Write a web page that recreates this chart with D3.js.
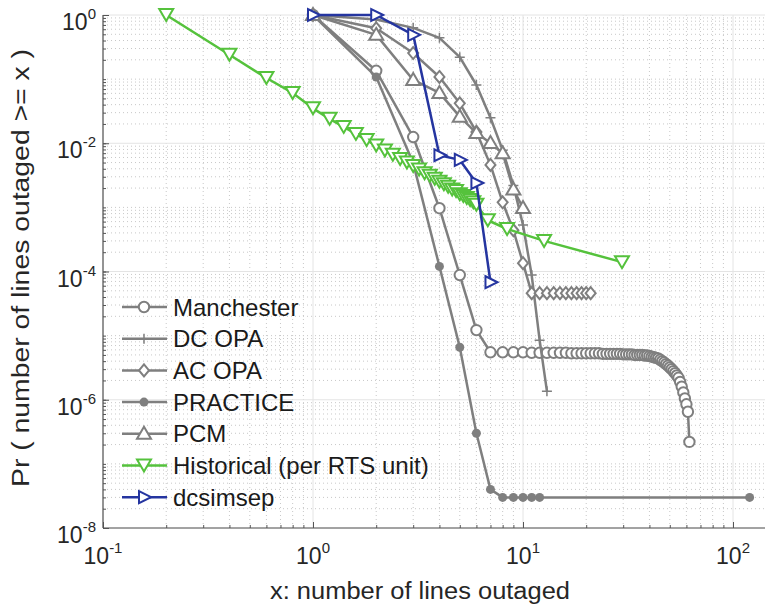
<!DOCTYPE html>
<html>
<head>
<meta charset="utf-8">
<script src="https://cdn.jsdelivr.net/npm/d3@7"></script>
<style>
  body { margin: 0; background: #fff; }
  text { font-family: "Liberation Sans", Arial, sans-serif; }
</style>
</head>
<body>
<div id="main"></div>
<script>
// series data
var manchesterX = [1, 2, 3, 4, 5, 6, 7, 8, 9, 10, 11, 12, 13, 14, 15, 16, 17, 18, 19, 20,
  21, 22, 23, 24, 25, 26, 27, 28, 29, 30, 31, 32, 33, 34, 35, 36, 37, 38, 39, 40,
  41, 42, 43, 44, 45, 46, 47, 48, 49, 50, 51, 52, 53, 54, 55, 56, 57, 58, 59, 60, 61, 62];
var manchesterY = [1, 0.135, 0.0125, 9.7e-4, 8.8e-5, 1.22e-5, 5.5e-6, 5.5e-6, 5.5e-6, 5.5e-6,
  5.4e-6, 5.4e-6, 5.4e-6, 5.4e-6, 5.4e-6, 5.4e-6, 5.3e-6, 5.3e-6, 5.3e-6, 5.3e-6,
  5.3e-6, 5.3e-6, 5.3e-6, 5.2e-6, 5.2e-6, 5.2e-6, 5.2e-6, 5.2e-6, 5.2e-6, 5.1e-6,
  5.1e-6, 5.1e-6, 5.1e-6, 5.0e-6, 5.0e-6, 5.0e-6, 5.0e-6, 4.9e-6, 4.9e-6, 4.8e-6,
  4.7e-6, 4.6e-6, 4.5e-6, 4.4e-6, 4.2e-6, 4.0e-6, 3.8e-6, 3.6e-6, 3.4e-6, 3.2e-6,
  3.0e-6, 2.8e-6, 2.6e-6, 2.4e-6, 2.2e-6, 1.9e-6, 1.6e-6, 1.3e-6, 1.05e-6, 8.5e-7, 6.5e-7, 2.2e-7];

var dcOpaX = [1, 2, 3, 4, 5, 6, 7, 8, 9, 10, 11, 12, 13];
var dcOpaY = [1, 0.85, 0.63, 0.44, 0.22, 0.081, 0.025, 0.0078, 0.0022, 5.3e-4, 8.8e-5, 8.5e-6, 1.36e-6];

var acOpaX = [1, 2, 3, 4, 5, 6, 7, 8, 9, 10, 11, 12, 13, 14, 15, 16, 17, 18, 19, 20, 21];
var acOpaY = [1, 0.62, 0.255, 0.108, 0.042, 0.015, 0.0046, 0.0012, 4.4e-4, 1.35e-4,
  4.6e-5, 4.6e-5, 4.6e-5, 4.6e-5, 4.6e-5, 4.6e-5, 4.6e-5, 4.6e-5, 4.6e-5, 4.6e-5, 4.6e-5];

var practiceX = [1, 2, 3, 4, 5, 6, 7, 8, 9, 10, 11, 12, 120];
var practiceY = [1, 0.108, 0.0049, 1.2e-4, 6.6e-6, 3.0e-7, 4.0e-8, 3.0e-8, 3.0e-8, 3.0e-8, 3.0e-8, 3.0e-8, 3.0e-8];

var pcmX = [1, 2, 3, 4, 5, 6, 7, 8, 9, 10];
var pcmY = [1, 0.49, 0.097, 0.061, 0.026, 0.0144, 0.0101, 0.0070, 0.0019, 9.8e-4];

var historicalX = [0.2, 0.4, 0.6, 0.8, 1.0, 1.2, 1.4, 1.6, 1.8, 2.0, 2.2, 2.4, 2.6, 2.8, 3.0,
  3.2, 3.4, 3.6, 3.8, 4.0, 4.2, 4.4, 4.6, 4.8, 5.0, 5.2, 5.4, 5.6, 5.8, 6.0, 6.8, 8.4, 12.6, 29.6];
var historicalY = [1.0, 0.24, 0.104, 0.061, 0.035, 0.024, 0.018, 0.014, 0.0112, 0.0092, 0.0077,
  0.0066, 0.0057, 0.0050, 0.0044, 0.0039, 0.0034, 0.0031, 0.0028, 0.0025, 0.0023, 0.0021,
  0.0019, 0.0018, 0.0016, 0.0015, 0.0014, 0.0013, 0.0012, 0.0011, 6.3e-4, 4.6e-4, 3.0e-4, 1.4e-4];

var dcsimsepX = [1, 2, 3, 4, 5, 6, 7];
var dcsimsepY = [1, 1, 0.49, 0.0065, 0.0055, 0.0024, 6.8e-5];

var seriesNames = ['Manchester', 'DC OPA', 'AC OPA', 'PRACTICE', 'PCM', 'Historical (per RTS unit)', 'dcsimsep'];

var xTickExps = [-1, 0, 1, 2];
var yTickExps = [0, -2, -4, -6, -8];

var xLabel = 'x: number of lines outaged';
var yLabel = 'Pr ( number of lines outaged >= x )';

function create_chart() {

  var width = 765, height = 613;
  var left = 103, right = 765, top = 15, bottom = 528;

  var gray = '#7f7f7f', green = '#55c23c', blue = '#2535a0';

  var svg = d3.select('#main').append('svg').attr('width', width).attr('height', height);

  var x = d3.scaleLog().domain([0.1, 100]).range([left, 733]);
  var y = d3.scaleLog().domain([1, 1e-8]).range([top, bottom]);

  // tick positions over the full visible area
  var xAll = d3.scaleLog().domain([0.1, x.invert(right)]);
  var yAll = d3.scaleLog().domain([1e-8, 1]);
  var xMinor = xAll.ticks().filter(function (v) { return v <= x.invert(right); });
  var yMinor = yAll.ticks();
  var xMajor = xTickExps.map(function (e) { return Math.pow(10, e); });
  var yMajor = yTickExps.map(function (e) { return Math.pow(10, e); });

  function isMajor(list, v) {
    return list.some(function (m) { return Math.abs(Math.log10(m) - Math.log10(v)) < 1e-6; });
  }

  var grid = svg.append('g');

  grid.selectAll('.xminor')
    .data(xMinor.filter(function (v) { return !isMajor(xMajor, v); }))
    .enter().append('line')
    .attr('x1', function (d) { return x(d); }).attr('x2', function (d) { return x(d); })
    .attr('y1', top).attr('y2', bottom)
    .attr('stroke', '#c8c8c8').attr('stroke-width', 1).attr('stroke-dasharray', '1,3');

  grid.selectAll('.yminor')
    .data(yMinor.filter(function (v) { return !isMajor(yMajor, v); }))
    .enter().append('line')
    .attr('y1', function (d) { return y(d); }).attr('y2', function (d) { return y(d); })
    .attr('x1', left).attr('x2', right)
    .attr('stroke', '#c8c8c8').attr('stroke-width', 1).attr('stroke-dasharray', '1,3');

  grid.selectAll('.xmajor')
    .data(xMajor)
    .enter().append('line')
    .attr('x1', function (d) { return x(d); }).attr('x2', function (d) { return x(d); })
    .attr('y1', top).attr('y2', bottom)
    .attr('stroke', '#e4e4e4').attr('stroke-width', 1);

  grid.selectAll('.ymajor')
    .data(yMajor)
    .enter().append('line')
    .attr('y1', function (d) { return y(d); }).attr('y2', function (d) { return y(d); })
    .attr('x1', left).attr('x2', right)
    .attr('stroke', '#e4e4e4').attr('stroke-width', 1);

  // axes, ticks pointing inward
  var xAxisMinor = svg.append('g').attr('transform', 'translate(0,' + bottom + ')')
    .call(d3.axisBottom(x).tickValues(xMinor).tickSize(-3).tickFormat(''));
  var xAxisMajor = svg.append('g').attr('transform', 'translate(0,' + bottom + ')')
    .call(d3.axisBottom(x).tickValues(xMajor).tickSize(-6).tickFormat(''));
  var yAxisMinor = svg.append('g').attr('transform', 'translate(' + left + ',0)')
    .call(d3.axisLeft(y).tickValues(yMinor).tickSize(-3).tickFormat(''));
  var yAxisMajor = svg.append('g').attr('transform', 'translate(' + left + ',0)')
    .call(d3.axisLeft(y).tickValues(yMajor).tickSize(-6).tickFormat(''));

  [xAxisMinor, xAxisMajor, yAxisMinor, yAxisMajor].forEach(function (a) {
    a.selectAll('line').attr('stroke', '#555');
    a.select('.domain').remove();
  });

  svg.append('line').attr('x1', left).attr('x2', right).attr('y1', bottom).attr('y2', bottom)
    .attr('stroke', '#555').attr('stroke-width', 1.2);
  svg.append('line').attr('x1', left).attr('x2', left).attr('y1', top).attr('y2', bottom)
    .attr('stroke', '#555').attr('stroke-width', 1.2);

  // tick labels 10^n
  function powerLabel(sel) {
    sel.append('tspan').attr('font-size', 23).text('10');
    sel.append('tspan').attr('font-size', 15).attr('dy', -11).text(function (d) { return d; });
  }

  svg.selectAll('.xlab')
    .data(xTickExps)
    .enter().append('text')
    .attr('x', function (d) { return x(Math.pow(10, d)); })
    .attr('y', 564)
    .attr('text-anchor', 'middle')
    .attr('fill', '#262626')
    .call(powerLabel);

  svg.selectAll('.ylab')
    .data(yTickExps)
    .enter().append('text')
    .attr('x', 96)
    .attr('y', function (d) { return y(Math.pow(10, d)) + 15; })
    .attr('text-anchor', 'end')
    .attr('fill', '#262626')
    .call(powerLabel);

  svg.append('text')
    .attr('x', 420).attr('y', 599)
    .attr('text-anchor', 'middle').attr('font-size', 23).attr('fill', '#262626')
    .attr('textLength', 300).attr('lengthAdjust', 'spacingAndGlyphs')
    .text(xLabel);

  svg.append('text')
    .attr('transform', 'translate(29,268) rotate(-90)')
    .attr('text-anchor', 'middle').attr('font-size', 23).attr('fill', '#262626')
    .attr('textLength', 438).attr('lengthAdjust', 'spacingAndGlyphs')
    .text(yLabel);

  // marker shapes
  function marker(g, kind, color) {
    if (kind === 'circle') {
      g.append('circle').attr('r', 5.2).attr('fill', '#fff').attr('stroke', color).attr('stroke-width', 2);
    } else if (kind === 'plus') {
      g.append('path').attr('d', 'M-5,0H5M0,-5V5').attr('stroke', color).attr('stroke-width', 1.5);
    } else if (kind === 'diamond') {
      g.append('path').attr('d', 'M0,-6L5,0L0,6L-5,0Z').attr('fill', '#fff').attr('stroke', color).attr('stroke-width', 2);
    } else if (kind === 'dot') {
      g.append('circle').attr('r', 4.5).attr('fill', color);
    } else if (kind === 'up') {
      g.append('path').attr('d', 'M0,-7L7,5L-7,5Z').attr('fill', '#fff').attr('stroke', color).attr('stroke-width', 2);
    } else if (kind === 'down') {
      g.append('path').attr('d', 'M0,6L7,-6L-7,-6Z').attr('fill', '#fff').attr('stroke', color).attr('stroke-width', 2);
    } else if (kind === 'right') {
      g.append('path').attr('d', 'M7,0L-5,-6L-5,6Z').attr('fill', '#fff').attr('stroke', color).attr('stroke-width', 2);
    }
  }

  var series = [
    {xs: manchesterX, ys: manchesterY, color: gray, kind: 'circle'},
    {xs: dcOpaX, ys: dcOpaY, color: gray, kind: 'plus'},
    {xs: acOpaX, ys: acOpaY, color: gray, kind: 'diamond'},
    {xs: practiceX, ys: practiceY, color: gray, kind: 'dot'},
    {xs: pcmX, ys: pcmY, color: gray, kind: 'up'},
    {xs: historicalX, ys: historicalY, color: green, kind: 'down'},
    {xs: dcsimsepX, ys: dcsimsepY, color: blue, kind: 'right'}
  ];

  var line = d3.line()
    .x(function (d) { return x(d[0]); })
    .y(function (d) { return y(d[1]); });

  var plot = svg.append('g');

  series.forEach(function (s) {
    var pts = d3.zip(s.xs, s.ys);
    plot.append('path')
      .datum(pts)
      .attr('fill', 'none')
      .attr('stroke', s.color)
      .attr('stroke-width', 2.5)
      .attr('stroke-linejoin', 'round')
      .attr('d', line);

    plot.selectAll(null)
      .data(pts)
      .enter().append('g')
      .attr('transform', function (d) { return 'translate(' + x(d[0]) + ',' + y(d[1]) + ')'; })
      .each(function () { marker(d3.select(this), s.kind, s.color); });
  });

  // legend
  var legend = svg.append('g');
  series.forEach(function (s, i) {
    var ly = 307 + i * 31.7;
    legend.append('line').attr('x1', 122).attr('x2', 167).attr('y1', ly).attr('y2', ly)
      .attr('stroke', s.color).attr('stroke-width', 2.5);
    var g = legend.append('g').attr('transform', 'translate(144,' + ly + ')');
    marker(g, s.kind, s.color);
    legend.append('text').attr('x', 173).attr('y', ly + 8.5)
      .attr('font-size', 24).attr('fill', '#1a1a1a')
      .text(seriesNames[i]);
  });
}

create_chart();
</script>
</body>
</html>
